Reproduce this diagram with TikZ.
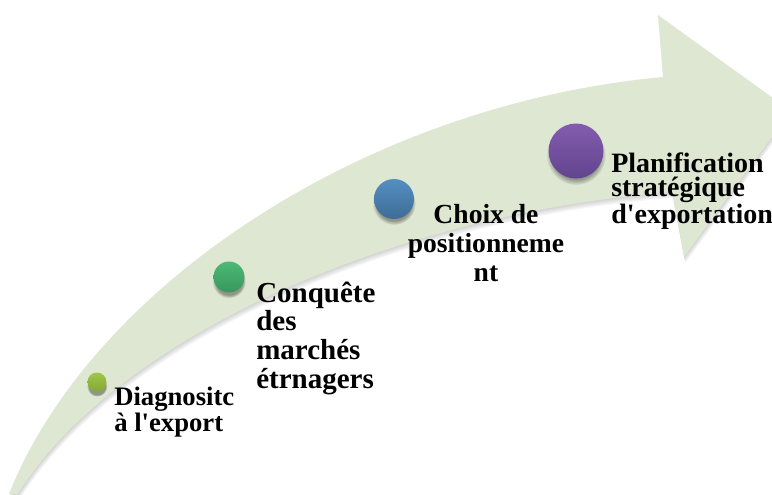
\documentclass[tikz,border=0pt]{standalone}
\usepackage{fontspec}
\setmainfont{Liberation Serif}[Ligatures=TeXOff]
\usetikzlibrary{fadings,shadows}

\definecolor{arrowfill}{RGB}{221,231,210}
\definecolor{limeA}{RGB}{160,198,72}
\definecolor{limeB}{RGB}{132,168,54}
\definecolor{greenA}{RGB}{76,186,118}
\definecolor{greenB}{RGB}{56,150,92}
\definecolor{blueA}{RGB}{84,143,194}
\definecolor{blueB}{RGB}{62,108,150}
\definecolor{purpleA}{RGB}{131,92,174}
\definecolor{purpleB}{RGB}{98,68,142}

% the curved arrow body, in pixel-like units
\newcommand\arrowbody[1]{%
  \fill[#1] (9,494) .. controls (90,290) and (360,105) .. (663,77)
    -- (658,15) -- (791,111) -- (684,257) -- (672,192)
    .. controls (380,215) and (110,345) .. (18,494) -- cycle;}

\tikzset{
  ball/.style 2 args={circle, inner sep=0pt, shade, top color=#1, bottom color=#2,
    general shadow={fill=black, opacity=0.35, shadow yshift=-3pt, shadow scale=1.08,
      path fading=circle with fuzzy edge 20 percent}},
  % labels are placed by the baseline of their last line
  lbl/.style={inner sep=0pt, anchor=base west, align=left},
}

\begin{document}
\begin{tikzpicture}[x=0.75pt,y=-0.75pt]
\useasboundingbox (0,0) rectangle (772,494);

% soft shadow under the arrow
\foreach \s in {1,...,5}{
  \begin{scope}[xshift=0.2*\s pt, yshift=-0.9*\s pt]
    \arrowbody{black, opacity=0.035}
  \end{scope}
}
\arrowbody{arrowfill}

% milestones
\node[ball={limeA}{limeB}, minimum size=14.25pt] (m1) at (97,382) {};
\node[ball={greenA}{greenB}, minimum size=23.25pt] (m2) at (229,277) {};
\node[ball={blueA}{blueB}, minimum size=30pt] (m3) at (394,199) {};
\node[ball={purpleA}{purpleB}, minimum size=41.25pt] (m4) at (576,151) {};

% labels
\node[lbl, font=\bfseries\fontsize{20}{19.5}\selectfont] (t1) at (114,431)
  {Diagnositc\\à l'export};
\node[lbl, font=\bfseries\fontsize{21.75}{21.4}\selectfont] (t2) at (256,388)
  {Conquête\\des\\marchés\\étrnagers};
\node[inner sep=0pt, anchor=base, align=center,
  font=\bfseries\fontsize{20.7}{21.6}\selectfont] (t3) at (486,281)
  {Choix de\\positionneme\\nt};
\node[lbl, font=\bfseries\fontsize{21}{18}\selectfont] (t4) at (611,223)
  {Planification\\stratégique\\d'exportation};
\end{tikzpicture}
\end{document}
